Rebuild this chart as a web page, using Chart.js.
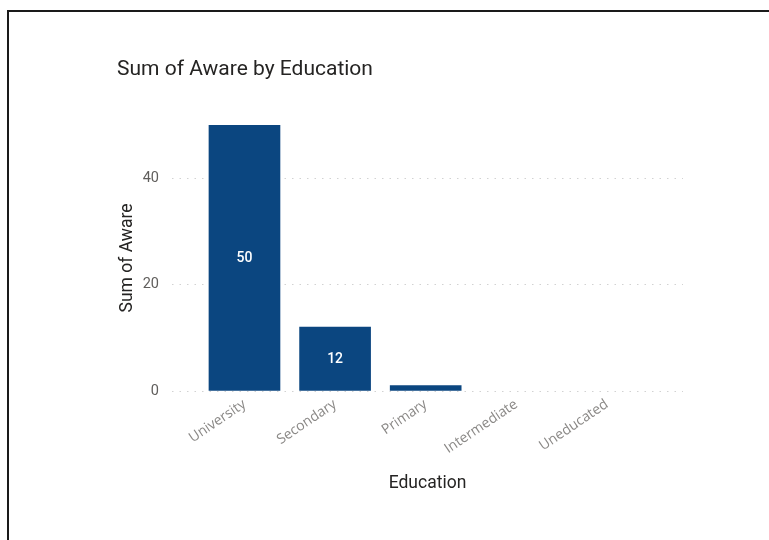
<!DOCTYPE html>
<html>
<head>
<meta charset="utf-8">
<script src="https://cdn.jsdelivr.net/npm/chart.js@4/dist/chart.umd.min.js"></script>
<style>
  html, body { margin: 0; padding: 0; background: #fff; }
  #wrap { position: relative; width: 769px; height: 540px; overflow: hidden; }
  #frame { position: absolute; left: 7px; top: 10px; width: 800px; height: 600px; border: 2px solid #1a1a1a; box-sizing: border-box; }
  canvas { position: absolute; left: 0; top: 0; }
</style>
</head>
<body>
<div id="wrap">
  <div id="frame"></div>
  <canvas id="c" width="769" height="540"></canvas>
</div>
<script>
const categories = ["University", "Secondary", "Primary", "Intermediate", "Uneducated"];
const awareValues = [50, 12, 1, 0, 0];
const yTicks = [0, 20, 40];

const barColor = "#0B4680";

const dataLabelPlugin = {
  id: "dataLabels",
  afterDatasetsDraw(chart) {
    const ctx = chart.ctx;
    const meta = chart.getDatasetMeta(0);
    ctx.save();
    ctx.fillStyle = "#ffffff";
    ctx.font = "500 14px Roboto, 'Open Sans', sans-serif";
    ctx.textAlign = "center";
    ctx.textBaseline = "middle";
    meta.data.forEach((bar, i) => {
      const v = awareValues[i];
      const h = Math.abs(bar.base - bar.y);
      if (h < 20) return;
      ctx.fillText(String(v), bar.x, (bar.y + bar.base) / 2 + 1);
    });
    ctx.restore();
  }
};

new Chart(document.getElementById("c"), {
  type: "bar",
  data: {
    datasets: [{
      label: "Sum of Aware",
      data: categories.map((c, i) => ({ x: i, y: awareValues[i] })),
      backgroundColor: c => (awareValues[c.dataIndex] === 0 ? "rgba(0,0,0,0)" : barColor),
      barThickness: 71,
      borderWidth: 0
    }]
  },
  options: {
    responsive: false,
    animation: false,
    devicePixelRatio: 1,
    layout: { padding: { left: 117, right: 86, top: 57, bottom: 40 } },
    plugins: {
      legend: { display: false },
      tooltip: { enabled: false },
      title: {
        display: true,
        text: "Sum of Aware by Education",
        align: "start",
        color: "#252423",
        font: { family: "Roboto, 'Open Sans', sans-serif", size: 21, weight: "normal" },
        padding: { top: 0, bottom: 42.8 }
      }
    },
    scales: {
      x: {
        type: "linear",
        min: -0.8,
        max: 4.84,
        offset: false,
        grid: { display: false, drawTicks: false },
        border: { display: false },
        afterBuildTicks: axis => { axis.ticks = categories.map((c, i) => ({ value: i })); },
        afterFit: axis => { axis.height = 109; },
        ticks: {
          autoSkip: false,
          maxRotation: 34,
          minRotation: 34,
          padding: 5,
          color: "#8a8886",
          font: { family: "'Open Sans', sans-serif", size: 14 },
          callback: v => categories[v]
        },
        title: {
          display: true,
          text: "Education",
          color: "#252423",
          font: { family: "Roboto, 'Open Sans', sans-serif", size: 17.5 },
          padding: { top: 0, bottom: 6 }
        }
      },
      y: {
        min: 0,
        max: 50,
        grid: {
          color: "#d2d2d2",
          lineWidth: 1,
          drawTicks: false
        },
        border: { display: false, dash: [1.5, 6] },
        afterBuildTicks: axis => { axis.ticks = yTicks.map(v => ({ value: v })); },
        afterFit: axis => { axis.width = 55; },
        ticks: {
          padding: 13,
          color: "#605e5c",
          font: { family: "Roboto, 'Open Sans', sans-serif", size: 14.5 }
        },
        title: {
          display: true,
          text: "Sum of Aware",
          color: "#252423",
          font: { family: "Roboto, 'Open Sans', sans-serif", size: 17.5 },
          padding: { top: 0, bottom: 0 }
        }
      }
    }
  },
  plugins: [dataLabelPlugin]
});
</script>
</body>
</html>
